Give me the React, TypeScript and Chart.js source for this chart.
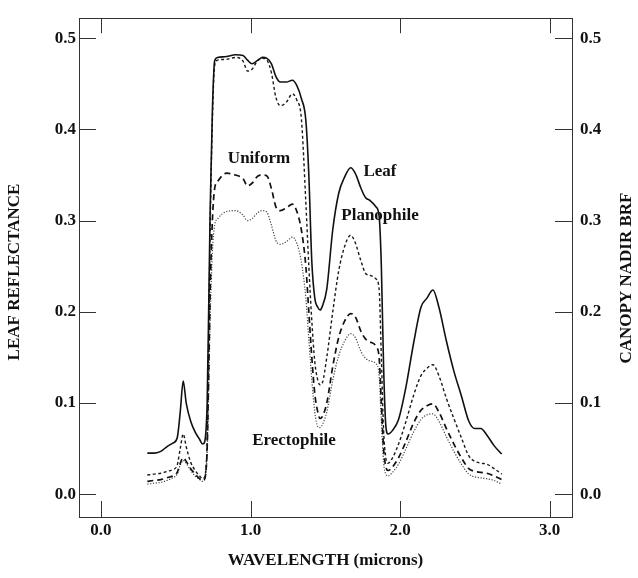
import React, { useEffect, useRef } from "react";
import { Chart, registerables } from "chart.js";

Chart.register(...registerables);

// ---- data ----
const wavelengths = [
  0.31, 0.35, 0.4, 0.44, 0.48, 0.51, 0.53, 0.55, 0.57, 0.6, 0.63, 0.66, 0.68, 0.69, 0.7, 0.71, 0.72, 0.73, 0.745, 0.76,
  0.78, 0.84, 0.9, 0.95, 0.98, 1.01, 1.05, 1.08, 1.11, 1.14, 1.17, 1.2, 1.24, 1.28, 1.31, 1.34, 1.37, 1.39, 1.41, 1.43,
  1.45, 1.465, 1.48, 1.51, 1.55, 1.59, 1.63, 1.67, 1.7, 1.74, 1.77, 1.8, 1.84, 1.86, 1.875, 1.89, 1.905, 1.92, 1.95, 1.99,
  2.04, 2.09, 2.14, 2.18, 2.22, 2.26, 2.31, 2.36, 2.41, 2.46, 2.5, 2.54, 2.58, 2.63, 2.68,
];

const leaf = [
  0.045, 0.045, 0.047, 0.052, 0.056, 0.062, 0.09, 0.124, 0.1, 0.08, 0.068, 0.06, 0.055, 0.056, 0.065, 0.1, 0.2, 0.31, 0.42, 0.475,
  0.479, 0.48, 0.482, 0.481, 0.476, 0.472, 0.476, 0.479, 0.478, 0.472, 0.458, 0.452, 0.452, 0.454, 0.448, 0.434, 0.41, 0.35, 0.255, 0.215,
  0.205, 0.202, 0.206, 0.225, 0.29, 0.33, 0.348, 0.358, 0.352, 0.335, 0.325, 0.322, 0.315, 0.305, 0.25, 0.14, 0.075, 0.066, 0.07, 0.082,
  0.118, 0.165, 0.205, 0.215, 0.224, 0.205, 0.168, 0.135, 0.108, 0.08, 0.072, 0.072, 0.065, 0.053, 0.044,
];

const planophile = [
  0.021, 0.022, 0.023, 0.025, 0.027, 0.032, 0.05, 0.066, 0.052, 0.035, 0.026, 0.02, 0.017, 0.018, 0.025, 0.06, 0.17, 0.29, 0.41, 0.47,
  0.476, 0.477, 0.479, 0.475, 0.464, 0.466, 0.476, 0.478, 0.476, 0.462, 0.435, 0.426, 0.43, 0.439, 0.432, 0.412, 0.32, 0.25, 0.19, 0.145,
  0.125, 0.12, 0.122, 0.15, 0.2, 0.245, 0.272, 0.284, 0.276, 0.255, 0.242, 0.24, 0.236, 0.225, 0.15, 0.07, 0.04, 0.034, 0.04, 0.055,
  0.08, 0.108, 0.13, 0.138, 0.142, 0.13, 0.105, 0.083, 0.062, 0.042, 0.036, 0.034, 0.033, 0.028, 0.022,
];

const uniform = [
  0.014, 0.015, 0.016, 0.018, 0.02, 0.024, 0.034, 0.04, 0.036, 0.028, 0.022, 0.017, 0.015, 0.016, 0.022, 0.05, 0.13, 0.22, 0.3, 0.335,
  0.343, 0.352, 0.35, 0.346, 0.338, 0.341, 0.349, 0.35, 0.349, 0.335, 0.315, 0.311, 0.314, 0.318, 0.31, 0.29, 0.25, 0.2, 0.15, 0.11,
  0.09, 0.083, 0.085, 0.1, 0.14, 0.172, 0.19, 0.198, 0.195, 0.178, 0.17, 0.167, 0.162, 0.15, 0.1, 0.05, 0.03, 0.026, 0.03, 0.04,
  0.058, 0.078, 0.092, 0.097, 0.099, 0.09, 0.072, 0.055, 0.04, 0.028, 0.025, 0.024, 0.023, 0.02, 0.016,
];

const erectophile = [
  0.011, 0.012, 0.013, 0.015, 0.018, 0.022, 0.032, 0.037, 0.034, 0.026, 0.02, 0.016, 0.014, 0.015, 0.02, 0.045, 0.11, 0.19, 0.265, 0.295,
  0.302, 0.31, 0.311, 0.306, 0.3, 0.302, 0.309, 0.311, 0.309, 0.295, 0.278, 0.274, 0.277, 0.282, 0.275, 0.255, 0.215, 0.17, 0.125, 0.09,
  0.074, 0.073, 0.076, 0.09, 0.125, 0.152, 0.168, 0.176, 0.172, 0.156, 0.149, 0.146, 0.143, 0.13, 0.08, 0.035, 0.022, 0.02, 0.024, 0.033,
  0.05, 0.068, 0.082, 0.087, 0.088, 0.08, 0.063, 0.047, 0.033, 0.022, 0.019, 0.018, 0.017, 0.015, 0.011,
];

const xTicks = [0, 1, 2, 3];
const yTicks = [0, 0.1, 0.2, 0.3, 0.4, 0.5];

const curveLabels = [
  { text: "Uniform", x: 1.057, y: 0.368 },
  { text: "Leaf", x: 1.866, y: 0.354 },
  { text: "Planophile", x: 1.866, y: 0.305 },
  { text: "Erectophile", x: 1.291, y: 0.059 },
];

const xTitle = "WAVELENGTH (microns)";
const yLeftTitle = "LEAF REFLECTANCE";
const yRightTitle = "CANOPY NADIR BRF";

// ---- styling ----
const FAMILY = '"Liberation Serif", "Times New Roman", serif';
const INK = "#111";
const tickFont = { family: FAMILY, size: 17, weight: "bold" as const };

const toPoints = (vals: number[]) => wavelengths.map((w, i) => ({ x: w, y: vals[i] }));

const framePlugin = {
  id: "frame",
  afterDatasetsDraw(chart: any) {
    const { ctx, chartArea: a, scales } = chart;
    const xs = scales.x;
    const ys = scales.y;
    ctx.save();
    ctx.strokeStyle = "#333";
    ctx.lineWidth = 1;
    ctx.strokeRect(Math.round(a.left) + 0.5, Math.round(a.top) + 0.5, Math.round(a.right - a.left), Math.round(a.bottom - a.top));
    const line = (x1: number, y1: number, x2: number, y2: number) => {
      ctx.beginPath();
      ctx.moveTo(x1, y1);
      ctx.lineTo(x2, y2);
      ctx.stroke();
    };
    for (const v of xTicks) {
      const px = Math.round(xs.getPixelForValue(v)) + 0.5;
      line(px, a.bottom, px, a.bottom - 16);
      line(px, a.top, px, a.top + 15);
    }
    for (const v of yTicks) {
      const py = Math.round(ys.getPixelForValue(v)) + 0.5;
      line(a.left, py, a.left + 17, py);
      line(a.right, py, a.right - 17, py);
    }
    ctx.fillStyle = INK;
    ctx.font = `bold 17px ${FAMILY}`;
    ctx.textAlign = "center";
    ctx.textBaseline = "middle";
    for (const l of curveLabels) {
      ctx.fillText(l.text, xs.getPixelForValue(l.x), ys.getPixelForValue(l.y));
    }
    ctx.save();
    ctx.translate(15, 272);
    ctx.rotate(-Math.PI / 2);
    ctx.fillText(yLeftTitle, 0, 0);
    ctx.restore();
    ctx.save();
    ctx.translate(627, 278);
    ctx.rotate(-Math.PI / 2);
    ctx.fillText(yRightTitle, 0, 0);
    ctx.restore();
    ctx.restore();
  },
};

export default function App() {
  const ref = useRef<HTMLCanvasElement | null>(null);

  useEffect(() => {
    document.body.style.margin = "0";
    const canvas = ref.current;
    if (!canvas) return;
    const yScaleBase = (position: "left" | "right", width: number, padding: number) => ({
      type: "linear" as const,
      position,
      min: -0.025,
      max: 0.522,
      grid: { display: false, drawTicks: false },
      border: { display: false },
      afterBuildTicks: (s: any) => {
        s.ticks = yTicks.map((v) => ({ value: v }));
      },
      afterFit: (s: any) => {
        s.width = width;
      },
      ticks: {
        font: tickFont,
        color: INK,
        padding,
        callback: (v: any) => Number(v).toFixed(1),
      },
    });

    const lineBase = { pointRadius: 0, cubicInterpolationMode: "monotone" as const };

    const chart = new Chart(canvas, {
      type: "line",
      data: {
        datasets: [
          { ...lineBase, label: "Leaf", data: toPoints(leaf), borderColor: "#111", borderWidth: 1.6 },
          {
            ...lineBase,
            label: "Planophile",
            data: toPoints(planophile),
            borderColor: "#1a1a1a",
            borderWidth: 1.4,
            borderDash: [3, 2.5],
          },
          {
            ...lineBase,
            label: "Uniform",
            data: toPoints(uniform),
            borderColor: "#111",
            borderWidth: 1.7,
            borderDash: [6, 4],
          },
          {
            ...lineBase,
            label: "Erectophile",
            data: toPoints(erectophile),
            borderColor: "#444",
            borderWidth: 1.2,
            borderDash: [1.2, 1.6],
          },
        ],
      },
      options: {
        animation: false,
        responsive: false,
        layout: { padding: { top: 14, right: 0, bottom: 0, left: 0 } },
        plugins: { legend: { display: false }, tooltip: { enabled: false }, title: { display: false } },
        scales: {
          x: {
            type: "linear",
            position: "bottom",
            min: -0.147,
            max: 3.15,
            grid: { display: false, drawTicks: false },
            border: { display: false },
            afterBuildTicks: (s: any) => {
              s.ticks = xTicks.map((v) => ({ value: v }));
            },
            afterFit: (s: any) => {
              s.height = 61;
            },
            ticks: {
              font: tickFont,
              color: INK,
              padding: 3,
              maxRotation: 0,
              callback: (v: any) => Number(v).toFixed(1),
            },
            title: {
              display: true,
              text: xTitle,
              color: INK,
              font: { family: FAMILY, size: 17, weight: "bold" },
              padding: { top: 0, bottom: 7 },
            },
          },
          y: yScaleBase("left", 79, 3),
          y2: yScaleBase("right", 66, 8),
        },
      },
      plugins: [framePlugin],
    });
    return () => chart.destroy();
  }, []);

  return (
    <div style={{ width: 638, height: 578 }}>
      <canvas ref={ref} width={638} height={578} />
    </div>
  );
}
